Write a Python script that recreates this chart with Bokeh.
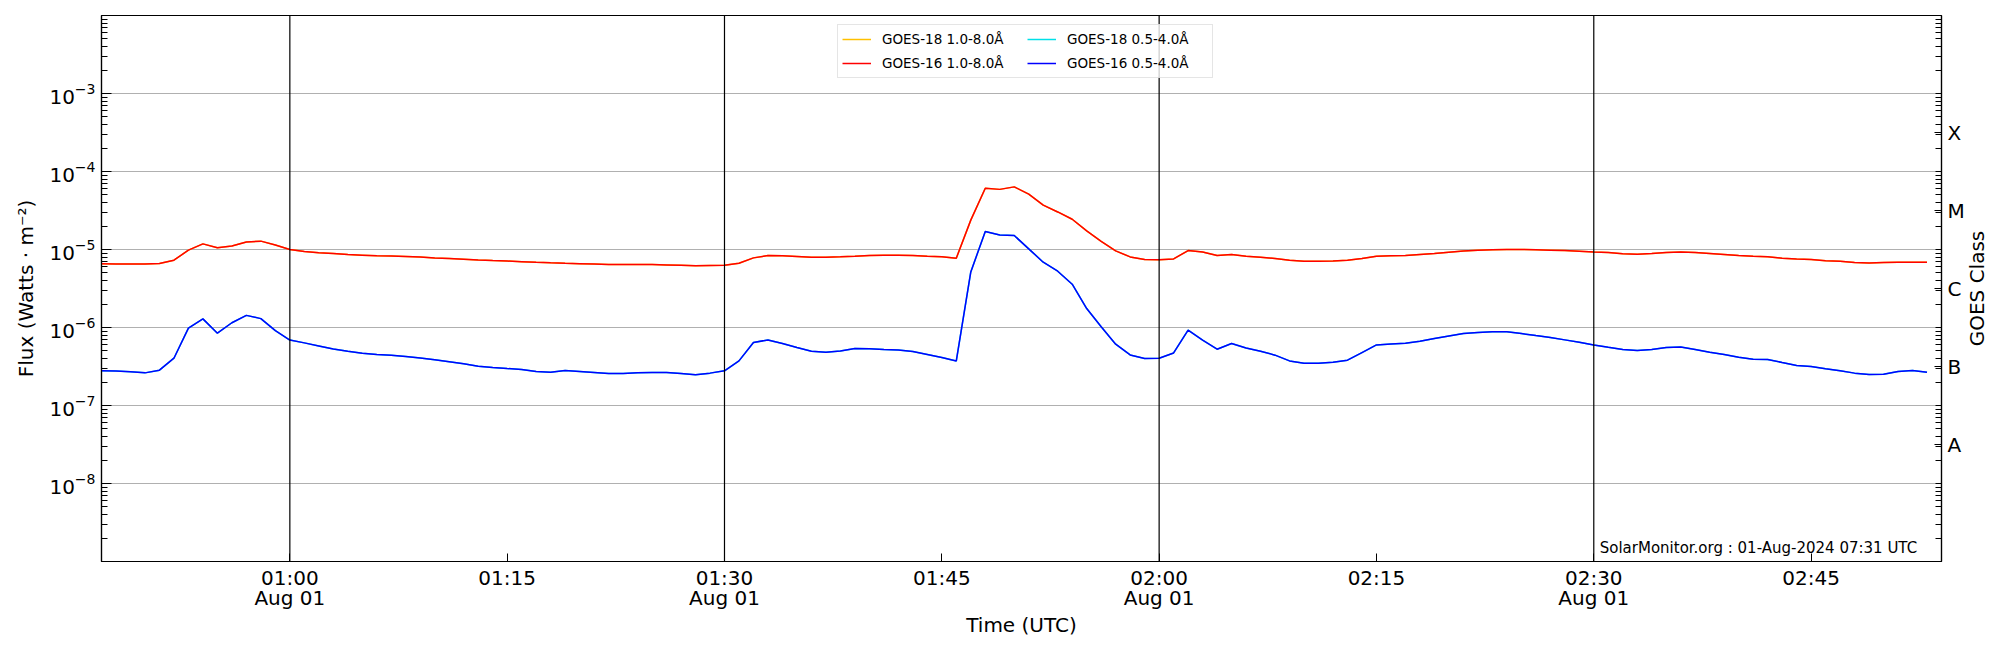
import math
import pandas as pd
from bokeh.plotting import figure
from bokeh.models import (Range1d, LogAxis, DatetimeAxis, FixedTicker, Span, Legend, LegendItem,
                          Label, CustomJSTickFormatter, ColumnDataSource)
from bokeh.embed import file_html
from bokeh.resources import INLINE

# ---------------- data (1-minute cadence from 00:47 UTC) -------------
start_time = "2024-08-01 00:47"

goes16_long = [  # GOES-16 1.0-8.0 A, W m^-2
    6.55e-6, 6.52e-6, 6.5e-6, 6.5e-6, 6.6e-6, 7.3e-6, 9.8e-6, 1.18e-5, 1.05e-5, 1.11e-5,
    1.25e-5, 1.28e-5, 1.14e-5, 1.0e-5, 9.4e-6, 9.1e-6, 8.9e-6, 8.6e-6, 8.45e-6, 8.3e-6,
    8.25e-6, 8.15e-6, 8.0e-6, 7.79e-6, 7.66e-6, 7.51e-6, 7.36e-6, 7.23e-6, 7.11e-6, 6.98e-6,
    6.85e-6, 6.74e-6, 6.64e-6, 6.58e-6, 6.51e-6, 6.42e-6, 6.42e-6, 6.42e-6, 6.42e-6, 6.35e-6,
    6.26e-6, 6.17e-6, 6.23e-6, 6.29e-6, 6.67e-6, 7.81e-6, 8.37e-6, 8.3e-6, 8.13e-6, 7.96e-6,
    7.96e-6, 8.05e-6, 8.2e-6, 8.37e-6, 8.45e-6, 8.45e-6, 8.37e-6, 8.2e-6, 8.05e-6, 7.74e-6,
    2.38e-5, 6.1e-5, 5.9e-5, 6.35e-5, 5.12e-5, 3.7e-5, 3.03e-5, 2.44e-5, 1.73e-5, 1.27e-5,
    9.6e-6, 8.04e-6, 7.44e-6, 7.4e-6, 7.58e-6, 9.7e-6, 9.3e-6, 8.37e-6, 8.63e-6, 8.2e-6,
    7.96e-6, 7.67e-6, 7.3e-6, 7.08e-6, 7.05e-6, 7.14e-6, 7.3e-6, 7.67e-6, 8.2e-6, 8.3e-6,
    8.37e-6, 8.63e-6, 8.88e-6, 9.23e-6, 9.6e-6, 9.8e-6, 9.9e-6, 1.0e-5, 1.0e-5, 9.9e-6,
    9.8e-6, 9.7e-6, 9.5e-6, 9.3e-6, 9.15e-6, 8.85e-6, 8.7e-6, 8.88e-6, 9.15e-6, 9.3e-6,
    9.15e-6, 8.88e-6, 8.63e-6, 8.37e-6, 8.2e-6, 8.05e-6, 7.73e-6, 7.58e-6, 7.44e-6, 7.2e-6,
    7.08e-6, 6.81e-6, 6.73e-6, 6.81e-6, 6.87e-6, 6.87e-6, 6.87e-6,
]

goes16_short = [  # GOES-16 0.5-4.0 A, W m^-2
    2.78e-7, 2.76e-7, 2.7e-7, 2.62e-7, 2.84e-7, 4.04e-7, 9.8e-7, 1.29e-6, 8.45e-7, 1.15e-6,
    1.43e-6, 1.3e-6, 9.1e-7, 6.9e-7, 6.35e-7, 5.8e-7, 5.3e-7, 4.97e-7, 4.69e-7, 4.5e-7,
    4.4e-7, 4.25e-7, 4.05e-7, 3.85e-7, 3.63e-7, 3.42e-7, 3.19e-7, 3.07e-7, 2.98e-7, 2.9e-7,
    2.73e-7, 2.67e-7, 2.81e-7, 2.73e-7, 2.65e-7, 2.57e-7, 2.57e-7, 2.62e-7, 2.65e-7, 2.65e-7,
    2.57e-7, 2.47e-7, 2.6e-7, 2.78e-7, 3.73e-7, 6.43e-7, 6.93e-7, 6.23e-7, 5.54e-7, 4.97e-7,
    4.82e-7, 5.01e-7, 5.38e-7, 5.33e-7, 5.22e-7, 5.15e-7, 4.92e-7, 4.51e-7, 4.12e-7, 3.73e-7,
    5.16e-6, 1.7e-5, 1.53e-5, 1.51e-5, 1.02e-5, 6.87e-6, 5.27e-6, 3.59e-6, 1.75e-6, 1.02e-6,
    6.11e-7, 4.45e-7, 4.01e-7, 4.04e-7, 4.72e-7, 9.23e-7, 6.87e-7, 5.27e-7, 6.24e-7, 5.47e-7,
    4.97e-7, 4.42e-7, 3.73e-7, 3.48e-7, 3.48e-7, 3.59e-7, 3.81e-7, 4.77e-7, 5.98e-7, 6.16e-7,
    6.29e-7, 6.67e-7, 7.22e-7, 7.8e-7, 8.37e-7, 8.62e-7, 8.79e-7, 8.79e-7, 8.37e-7, 7.88e-7,
    7.44e-7, 6.94e-7, 6.48e-7, 5.98e-7, 5.58e-7, 5.22e-7, 5.07e-7, 5.22e-7, 5.54e-7, 5.64e-7,
    5.22e-7, 4.82e-7, 4.51e-7, 4.16e-7, 3.92e-7, 3.89e-7, 3.56e-7, 3.26e-7, 3.16e-7, 2.95e-7,
    2.78e-7, 2.6e-7, 2.49e-7, 2.51e-7, 2.73e-7, 2.81e-7, 2.67e-7,
]

# GOES-18 traces lie directly underneath the GOES-16 traces in the picture
goes18_long = list(goes16_long)
goes18_short = list(goes16_short)

series_labels = ["GOES-18 1.0-8.0Å", "GOES-16 1.0-8.0Å", "GOES-18 0.5-4.0Å", "GOES-16 0.5-4.0Å"]
series_colors = ["#FFC000", "#FF0000", "#00E0E8", "#0000FF"]

flux_decades = [1e-8, 1e-7, 1e-6, 1e-5, 1e-4, 1e-3]
flux_minor = [k * 10.0 ** d for d in range(-9, -2) for k in range(2, 10)]
class_labels = ["A", "B", "C", "M", "X"]
class_centers = [10 ** -7.5, 10 ** -6.5, 10 ** -5.5, 10 ** -4.5, 10 ** -3.5]

time_ticks = ["2024-08-01 01:00", "2024-08-01 01:15", "2024-08-01 01:30", "2024-08-01 01:45",
              "2024-08-01 02:00", "2024-08-01 02:15", "2024-08-01 02:30", "2024-08-01 02:45"]
hour_lines = ["2024-08-01 01:00", "2024-08-01 01:30", "2024-08-01 02:00", "2024-08-01 02:30"]
date_label = "Aug 01"
x_start, x_end = "2024-08-01 00:47", "2024-08-01 02:54"
footer = "SolarMonitor.org : 01-Aug-2024 07:31 UTC"
right_title = "GOES Class"

# ---------------- figure ----------------
times = pd.date_range(start_time, periods=len(goes16_long), freq="1min")
src = ColumnDataSource(dict(t=times, g18l=goes18_long, g16l=goes16_long,
                            g18s=goes18_short, g16s=goes16_short))

def ms(s):
    return pd.Timestamp(s).value // 10 ** 6

FONT = "DejaVu Sans"
FRAME_W, FRAME_H = 1840, 546

p = figure(x_axis_type="datetime", y_axis_type="log",
           x_range=Range1d(pd.Timestamp(x_start), pd.Timestamp(x_end)),
           y_range=Range1d(1e-9, 1e-2),
           width=2000, height=650,
           min_border_left=101, min_border_right=59, min_border_top=15, min_border_bottom=89,
           output_backend="svg", toolbar_location=None)
p.background_fill_color = "white"
p.border_fill_color = "white"
p.outline_line_color = "black"
p.outline_line_width = 1.2

# left axis
yl = p.yaxis[0]
left_ticker = FixedTicker(ticks=flux_decades, minor_ticks=flux_minor)
yl.ticker = left_ticker
yl.axis_label = "Flux (Watts · m⁻²)"

# right axis (GOES class)
yr = LogAxis(ticker=FixedTicker(ticks=class_centers, minor_ticks=flux_minor + flux_decades),
             formatter=CustomJSTickFormatter(args=dict(labels=class_labels), code="""
                const e = Math.round(Math.log10(tick) + 7.5);
                return (e >= 0 && e < labels.length) ? labels[e] : "";
             """))
p.add_layout(yr, "right")

# bottom time axis (times) + a second row carrying the date
xa = p.xaxis[0]
xa.ticker = FixedTicker(ticks=[ms(t) for t in time_ticks], minor_ticks=[])
xa.formatter = CustomJSTickFormatter(code="""
    const d = new Date(tick);
    const h = String(d.getUTCHours()).padStart(2, "0");
    const m = String(d.getUTCMinutes()).padStart(2, "0");
    return h + ":" + m;
""")
xa.axis_label = None

xd = DatetimeAxis(ticker=FixedTicker(ticks=[ms(t) for t in hour_lines], minor_ticks=[]),
                  formatter=CustomJSTickFormatter(args=dict(date_label=date_label),
                                                  code="return date_label;"),
                  axis_label="Time (UTC)")
p.add_layout(xd, "below")

for ax in (yl, yr, xa, xd):
    ax.axis_line_color = "black"
    ax.axis_line_width = 1.2
    ax.major_tick_line_color = "black"
    ax.minor_tick_line_color = "black"
    ax.major_tick_out = 0
    ax.minor_tick_out = 0
    ax.major_label_text_font = FONT
    ax.major_label_text_font_size = "20px"
    ax.major_label_text_color = "black"
    ax.axis_label_text_font = FONT
    ax.axis_label_text_font_size = "20px"
    ax.axis_label_text_font_style = "normal"
    ax.axis_label_text_color = "black"

yl.major_tick_in = 10
yl.minor_tick_in = 6
yl.major_label_standoff = 6
yl.axis_label_standoff = 8
yr.major_tick_in = 7
yr.minor_tick_in = 6
yr.major_label_standoff = 6
xa.major_tick_in = 8
xa.minor_tick_in = 0
xa.major_label_standoff = 4
xd.axis_line_color = None
xd.major_tick_line_color = None
xd.minor_tick_line_color = None
xd.major_tick_in = 0
xd.minor_tick_in = 0
xd.major_label_standoff = -7
xd.axis_label_standoff = 0

# right-hand title, reading bottom-to-top, in its own side panel beyond the class axis
p.add_layout(Label(x=9, y=FRAME_H / 2, x_units="screen", y_units="screen",
                   text=right_title, angle=math.pi / 2, text_align="center",
                   text_baseline="middle", text_font=FONT, text_font_size="20px",
                   text_color="black"), "right")

p.xgrid.visible = False
p.ygrid.ticker = left_ticker
p.ygrid.grid_line_color = "#b0b0b0"
p.ygrid.grid_line_width = 1
p.ygrid.minor_grid_line_color = None

for t in hour_lines:
    p.add_layout(Span(location=ms(t), dimension="height", line_color="black", line_width=1.2))

lw = 1.5
r18l = p.line("t", "g18l", source=src, line_color=series_colors[0], line_width=lw)
r18s = p.line("t", "g18s", source=src, line_color=series_colors[2], line_width=lw)
r16l = p.line("t", "g16l", source=src, line_color=series_colors[1], line_width=lw)
r16s = p.line("t", "g16s", source=src, line_color=series_colors[3], line_width=lw)

legend = Legend(items=[LegendItem(label=series_labels[0], renderers=[r18l]),
                       LegendItem(label=series_labels[1], renderers=[r16l]),
                       LegendItem(label=series_labels[2], renderers=[r18s]),
                       LegendItem(label=series_labels[3], renderers=[r16s])],
                location=(736, 483), orientation="vertical", nrows=2,
                label_text_font=FONT, label_text_font_size="13.5px", label_text_color="black",
                glyph_width=29, glyph_height=20, label_height=20, label_width=141,
                label_standoff=11, padding=4, spacing=4,
                border_line_color="#cccccc", border_line_width=1,
                background_fill_color="white", background_fill_alpha=0.8)
p.add_layout(legend)

p.add_layout(Label(x=pd.Timestamp("2024-08-01 02:52:19"), y=1.48e-9, text=footer,
                   text_align="right", text_baseline="alphabetic",
                   text_font=FONT, text_font_size="15px", text_color="black"))

open("out.html", "w").write(file_html(p, INLINE))
